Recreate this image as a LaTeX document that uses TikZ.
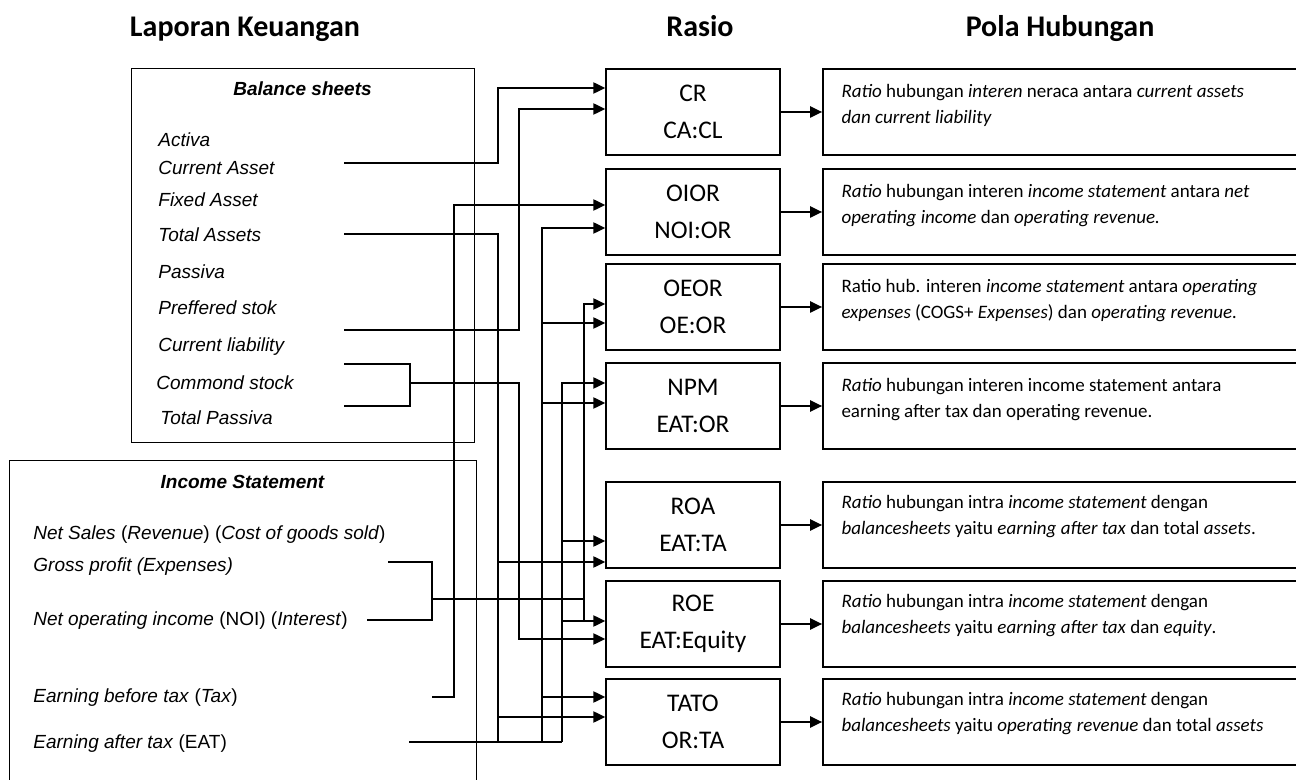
\documentclass[tikz,border=0pt]{standalone}
\usepackage{fontspec}
\setmainfont{Carlito}
\newfontfamily\arialfont{Liberation Sans}
\usetikzlibrary{arrows.meta}

\tikzset{
  wire/.style={line width=0.8pt},
  arr/.style={wire, -{Triangle[length=6pt,width=5.6pt]}},
  lbox/.style={draw, line width=0.5pt, inner sep=0pt},
  litem/.style={anchor=base west, inner sep=0pt, font=\arialfont\itshape\fontsize{9.5}{11}\selectfont},
  ltitle/.style={anchor=base, inner sep=0pt, font=\arialfont\bfseries\itshape\fontsize{9.5}{11}\selectfont},
  head/.style={anchor=base, inner sep=0pt, font=\bfseries\fontsize{15}{18}\selectfont},
  rasio/.style={draw, line width=0.7pt, minimum width=87pt, minimum height=43pt, align=center, inner sep=0pt, font=\fontsize{12.7}{18.5}\selectfont},
  pola/.style={draw, line width=0.9pt, minimum width=243.5pt, minimum height=43pt, inner sep=0pt},
  polatext/.style={anchor=north west, align=left, inner sep=0pt, font=\fontsize{9.5}{13}\selectfont, execute at begin node=\strut},
}

\begin{document}
\begin{tikzpicture}[x=0.5pt,y=-0.5pt]
\useasboundingbox (0,0) rectangle (1296,780);
\def\xEBT{454} % jalur earning before tax
\def\xCA{498}  % jalur current asset / total assets
\def\xPS{519}  % jalur preffered stok / stock
\def\xOR{542}  % jalur operating revenue
\def\xEAT{562} % jalur earning after tax
\def\xGP{584}  % jalur gross profit / NOI
\def\xSB{410}  % kurung stock
\def\xGN{432}  % kurung gross profit / NOI

% judul kolom
\node[head] (hlk) at (245,37) {Laporan Keuangan};
\node[head] (hr) at (700,37) {Rasio};
\node[head] (hph) at (1060,37) {Pola Hubungan};

% balance sheets
\node[lbox, minimum width=171.5pt, minimum height=187pt] (bs) at (302.5,256) {};
\node[ltitle] (bst) at (302.5,96) {Balance sheets};
\node[litem] (act) at (158,147) {Activa};
\node[litem] (ca) at (158,175) {Current Asset};
\node[litem] (fa) at (158,207) {Fixed Asset};
\node[litem] (ta) at (158,242) {Total Assets};
\node[litem] (pas) at (158,279) {Passiva};
\node[litem] (ps) at (158,315) {Preffered stok};
\node[litem] (cl) at (158,352) {Current liability};
\node[litem] (cs) at (156,390) {Commond stock};
\node[litem] (tp) at (160,425) {Total Passiva};

% income statement
\node[lbox, minimum width=233.5pt, minimum height=169.5pt] (is) at (242.5,630.5) {};
\node[ltitle] (ist) at (242.5,488) {Income Statement};
\node[litem] (ns) at (33,539) {Net Sales \textup{(}Revenue\textup{) (}Cost of goods sold\textup{)}};
\node[litem] (gp) at (33,571) {Gross profit (Expenses)};
\node[litem] (noi) at (33,625) {Net operating income \textup{(NOI) (}Interest\textup{)}};
\node[litem] (ebt) at (33,702) {Earning before tax \textup{(}Tax\textup{)}};
\node[litem] (eat) at (33,748) {Earning after tax \textup{(EAT)}};

% kotak rasio dan pola hubungan
\foreach \n/\yc/\ra/\rb in {cr/112/CR/CA:CL, oior/212/OIOR/NOI:OR, oeor/307/OEOR/OE:OR,
    npm/406/NPM/EAT:OR, roa/525/ROA/EAT:TA, roe/624/ROE/EAT:Equity, tato/722/TATO/OR:TA} {
  \node[rasio] (\n) at (693,\yc) {\ra\\\rb};
  \node[pola] (p\n) at (1066.5,\yc) {};
  \draw[arr] (\n.east) -- (p\n.west);
}

\node[polatext] (tcr) at ([shift={(19,16)}]pcr.north west)
  {\textit{Ratio} hubungan \textit{interen} neraca antara \textit{current assets}\\\textit{dan current liability}};
\node[polatext] (toior) at ([shift={(19,16)}]poior.north west)
  {\textit{Ratio} hubungan interen \textit{income statement} antara \textit{net}\\\textit{operating income} dan \textit{operating revenue.}};
\node[polatext] (toeor) at ([shift={(19,16)}]poeor.north west)
  {Ratio hub. interen \textit{income statement} antara \textit{operating}\\\textit{expenses} (COGS+ \textit{Expenses}) dan \textit{operating revenue.}};
\node[polatext] (tnpm) at ([shift={(19,16)}]pnpm.north west)
  {\textit{Ratio} hubungan interen income statement antara\\earning after tax dan operating revenue.};
\node[polatext] (troa) at ([shift={(19,14)}]proa.north west)
  {\textit{Ratio} hubungan intra \textit{income statement} dengan\\\textit{balancesheets} yaitu \textit{earning after tax} dan total \textit{assets}.};
\node[polatext] (troe) at ([shift={(19,14)}]proe.north west)
  {\textit{Ratio} hubungan intra \textit{income statement} dengan\\\textit{balancesheets} yaitu \textit{earning after tax} dan \textit{equity}.};
\node[polatext] (ttato) at ([shift={(19,14)}]ptato.north west)
  {\textit{Ratio} hubungan intra \textit{income statement} dengan\\\textit{balancesheets} yaitu \textit{operating revenue} dan total \textit{assets}};

% ujung garis dari laporan keuangan
\coordinate (caw) at (344,163);
\coordinate (taw) at (344,234);
\coordinate (psw) at (344,330);
\coordinate (csw) at (344,364);
\coordinate (tpw) at (344,406);
\coordinate (gpw) at (388,562);
\coordinate (noiw) at (367,620);
\coordinate (ebtw) at (432,697);
\coordinate (eatw) at (409,742);

% neraca -> CR
\draw[arr] (caw) -| (\xCA,88) -- (cr.west |- 0,88);
\draw[arr] (psw) -| (\xPS,109) -- (cr.west |- 0,109);
% total assets
\draw[wire] (taw) -| (\xCA,742);
\draw[arr] (\xCA,562) -- (roa.west |- 0,562);
\draw[arr] (\xCA,717) -- (tato.west |- 0,717);
% stock
\draw[wire] (csw) -| (\xSB,406) -- (tpw);
\draw[arr] (\xSB,383) -| (\xPS,639) -- (roe.west |- 0,639);
% earning before tax
\draw[arr] (ebtw) -| (\xEBT,205) -- (oior.west |- 0,205);
% gross profit / NOI
\draw[wire] (gpw) -| (\xGN,620) -- (noiw);
\draw[wire] (\xGN,599) -- (\xGP,599);
\draw[arr] (\xGP,620) -- (\xGP,304) -- (oeor.west |- 0,304);
% earning after tax
\draw[wire] (eatw) -- (\xEAT,742);
\draw[arr] (\xEAT,742) -- (\xEAT,383) -- (npm.west |- 0,383);
\draw[arr] (\xEAT,541) -- (roa.west |- 0,541);
\draw[arr] (\xEAT,621) -- (roe.west |- 0,621);
% operating revenue
\draw[arr] (\xOR,742) -- (\xOR,228) -- (oior.west |- 0,228);
\foreach \n/\yy in {oeor/323, npm/403, tato/697}
  \draw[arr] (\xOR,\yy) -- (\n.west |- 0,\yy);
\end{tikzpicture}
\end{document}
